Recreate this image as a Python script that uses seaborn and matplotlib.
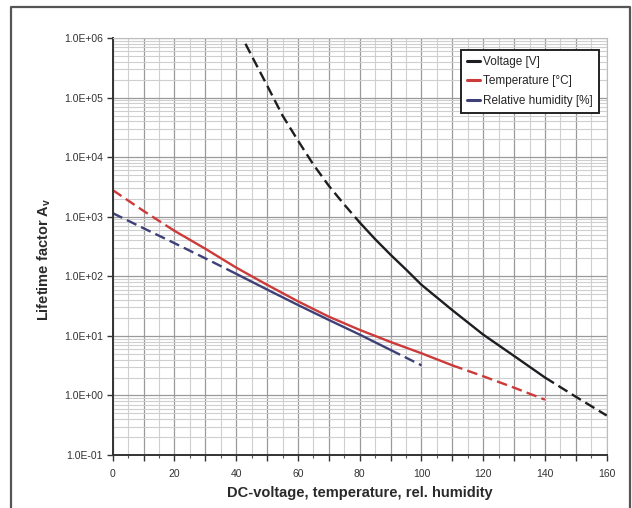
import numpy as np
import pandas as pd
import seaborn as sns
import matplotlib.pyplot as plt
from matplotlib.lines import Line2D
from matplotlib.ticker import MultipleLocator, LogLocator, FuncFormatter, NullFormatter

# values
voltage_x = [43, 46, 50, 55, 60, 65, 70, 75, 80, 85, 90, 95, 100, 110, 120, 130, 140, 150, 160]
voltage_y = [8.0e5, 4.0e5, 1.6e5, 5.0e4, 1.9e4, 7.5e3, 3.3e3, 1.6e3, 800, 420, 230, 130,
             72, 27, 10.5, 4.6, 2.0, 0.95, 0.46]
temp_x = [0, 10, 20, 30, 40, 50, 60, 70, 80, 90, 100, 110, 120, 130, 140]
temp_y = [2800, 1250, 580, 290, 140, 72, 38, 21, 12.6, 7.9, 5.1, 3.2, 2.1, 1.35, 0.85]
hum_x = [0, 10, 20, 30, 40, 50, 60, 70, 80, 90, 100]
hum_y = [1150, 640, 360, 200, 110, 60, 33, 18.5, 10.5, 5.8, 3.2]

# solid (measured) range of each curve, dashed outside it
voltage_solid = (80, 140)
temp_solid = (20, 110)
hum_solid = (40, 90)

labels = ['Voltage [V]', 'Temperature [°C]', 'Relative humidity [%]']
colors = ['#1e1e22', '#cc3a3a', '#3e4177']


def plot_curve(ax, x, y, solid, color, label):
    df = pd.DataFrame({'x': x, 'y': y})
    lo, hi = solid
    parts = [(df[df.x <= lo], '--', None),
             (df[(df.x >= lo) & (df.x <= hi)], '-', label),
             (df[df.x >= hi], '--', None)]
    for part, ls, lab in parts:
        if len(part) < 2:
            continue
        sns.lineplot(data=part, x='x', y='y', ax=ax, color=color, linewidth=1.7,
                     linestyle=ls, label=lab, legend=False)
        if ls == '--':
            ax.lines[-1].set_dashes((4.5, 2.2))


def main():
    sns.set_theme(style='white')
    plt.rcParams['font.family'] = ['Liberation Sans', 'DejaVu Sans']

    fig = plt.figure(figsize=(6.32, 5.08), dpi=100)
    ax = fig.add_axes([0.1783, 0.1043, 0.7817, 0.8209])

    # outer frame of the figure (left, top, right; runs off the bottom)
    fx0, fx1, fy1 = 11 / 632, 630 / 632, 1 - 7 / 508
    fig.add_artist(Line2D([fx0, fx0, fx1, fx1], [0, fy1, fy1, 0],
                          transform=fig.transFigure, color='#555555', linewidth=1.6))

    plot_curve(ax, voltage_x, voltage_y, voltage_solid, colors[0], labels[0])
    plot_curve(ax, temp_x, temp_y, temp_solid, colors[1], labels[1])
    plot_curve(ax, hum_x, hum_y, hum_solid, colors[2], labels[2])

    ax.set_yscale('log')
    ax.set_xlim(0, 160)
    ax.set_ylim(0.1, 1e6)

    ax.xaxis.set_major_locator(MultipleLocator(10))
    ax.xaxis.set_minor_locator(MultipleLocator(5))
    ax.xaxis.set_major_formatter(FuncFormatter(lambda v, p: f'{v:.0f}' if v % 20 == 0 else ''))
    ax.yaxis.set_major_locator(LogLocator(base=10, numticks=20))
    ax.yaxis.set_minor_locator(LogLocator(base=10, subs=np.arange(2, 10), numticks=20))
    ax.yaxis.set_major_formatter(FuncFormatter(lambda v, p: f'{v:.1E}'))
    ax.yaxis.set_minor_formatter(NullFormatter())

    ax.grid(which='major', color='#9a9a9a', linewidth=0.9)
    ax.grid(which='minor', color='#cfcfcf', linewidth=0.8)
    ax.set_axisbelow(True)

    for side in ['top', 'right']:
        ax.spines[side].set_color('#bdbdbd')
        ax.spines[side].set_linewidth(0.8)
    for side in ['left', 'bottom']:
        ax.spines[side].set_color('#333333')
        ax.spines[side].set_linewidth(1.4)

    ax.tick_params(axis='both', which='major', direction='out', length=4, width=1,
                   color='#333333', labelsize=7.5, labelcolor='#333333', pad=3,
                   left=True, bottom=True)
    ax.tick_params(axis='x', which='minor', direction='out', length=2, width=0.8,
                   color='#555555', bottom=True)
    ax.tick_params(axis='x', which='major', pad=6)

    ax.set_xlabel('DC-voltage, temperature, rel. humidity', fontsize=10.5,
                  fontweight='bold', color='#2a2a2a', labelpad=5)
    ax.set_ylabel(r'Lifetime factor A$_\mathregular{v}$', fontsize=10.5,
                  fontweight='bold', color='#2a2a2a')
    ax.yaxis.set_label_coords(-0.12, 0.47)

    leg = ax.legend(loc='upper right', fontsize=8.5, frameon=True, fancybox=False,
                    handlelength=1.1, handletextpad=0.3, borderpad=0.5,
                    labelspacing=0.62, bbox_to_anchor=(0.996, 0.985))
    leg.get_frame().set_edgecolor('#222222')
    leg.get_frame().set_linewidth(1.4)
    leg.get_frame().set_facecolor('white')
    leg.get_frame().set_alpha(1)
    for line in leg.get_lines():
        line.set_linewidth(2.2)

    fig.savefig('out.png', dpi=100)


if __name__ == '__main__':
    main()
